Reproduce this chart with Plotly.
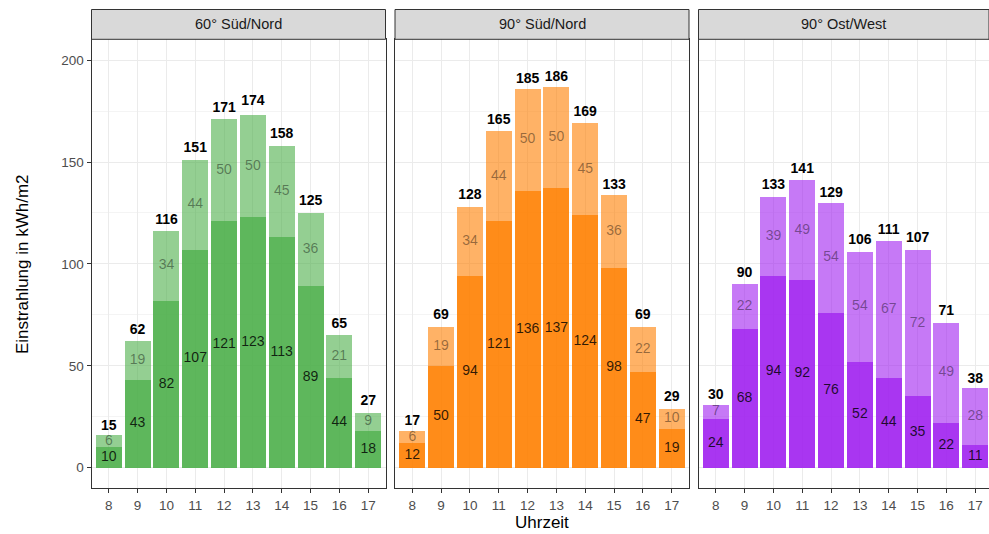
import plotly.graph_objects as go

hours = [8, 9, 10, 11, 12, 13, 14, 15, 16, 17]
panels = ["60° Süd/Nord", "90° Süd/Nord", "90° Ost/West"]

total_60sn = [15, 62, 116, 151, 171, 174, 158, 125, 65, 27]
lower_60sn = [10, 43, 82, 107, 121, 123, 113, 89, 44, 18]
upper_60sn = [6, 19, 34, 44, 50, 50, 45, 36, 21, 9]

total_90sn = [17, 69, 128, 165, 185, 186, 169, 133, 69, 29]
lower_90sn = [12, 50, 94, 121, 136, 137, 124, 98, 47, 19]
upper_90sn = [6, 19, 34, 44, 50, 50, 45, 36, 22, 10]

total_90ow = [30, 90, 133, 141, 129, 106, 111, 107, 71, 38]
lower_90ow = [24, 68, 94, 92, 76, 52, 44, 35, 22, 11]
upper_90ow = [7, 22, 39, 49, 54, 54, 67, 72, 49, 28]

yticks = [0, 50, 100, 150, 200]

data = [
    (total_60sn, lower_60sn, upper_60sn, (77, 175, 74)),
    (total_90sn, lower_90sn, upper_90sn, (255, 127, 0)),
    (total_90ow, lower_90ow, upper_90ow, (160, 32, 240)),
]

W, H = 989, 534
FONT = "Liberation Sans, Arial, sans-serif"

xdom_px = [(91.5, 385.5), (395.0, 689.0), (698.5, 989.0)]
px_per_unit = (385.5 - 91.5) / 10.2
plot_top_px, plot_bot_px = 39.3, 488.3
strip_top_px = 9.5
ydom = [(H - plot_bot_px) / H, (H - plot_top_px) / H]
yrange = [-10.1, 210.2]

fig = go.Figure()

def rgba(c, a):
    return f"rgba({c[0]},{c[1]},{c[2]},{a})"

for i, (tot, low, up, col) in enumerate(data):
    xa = "x" if i == 0 else f"x{i+1}"
    ya = "y" if i == 0 else f"y{i+1}"
    fig.add_trace(go.Bar(x=hours, y=low, width=0.9, marker=dict(color=rgba(col, 0.9), line=dict(width=0)),
                         xaxis=xa, yaxis=ya, showlegend=False, hoverinfo="skip"))
    fig.add_trace(go.Bar(x=hours, y=up, base=low, width=0.9, marker=dict(color=rgba(col, 0.6), line=dict(width=0)),
                         xaxis=xa, yaxis=ya, showlegend=False, hoverinfo="skip"))
    # segment labels
    fig.add_trace(go.Scatter(x=hours, y=[l / 2 for l in low], mode="text", text=[str(v) for v in low],
                             textfont=dict(family=FONT, size=14, color="rgba(0,0,0,0.82)"),
                             xaxis=xa, yaxis=ya, showlegend=False, hoverinfo="skip"))
    fig.add_trace(go.Scatter(x=hours, y=[l + u / 2 for l, u in zip(low, up)], mode="text", text=[str(v) for v in up],
                             textfont=dict(family=FONT, size=14, color="rgba(0,0,0,0.42)"),
                             xaxis=xa, yaxis=ya, showlegend=False, hoverinfo="skip"))
    fig.add_trace(go.Scatter(x=hours, y=tot, mode="markers+text", text=[f"<b>{v}</b>" for v in tot],
                             textposition="top center",
                             marker=dict(size=5, opacity=0),
                             textfont=dict(family=FONT, size=14, color="black"),
                             xaxis=xa, yaxis=ya, showlegend=False, hoverinfo="skip"))

layout = dict(
    width=W, height=H,
    margin=dict(l=0, r=0, t=0, b=0),
    paper_bgcolor="white", plot_bgcolor="white",
    barmode="stack",
    font=dict(family=FONT),
)

for i in range(3):
    x0, x1 = xdom_px[i]
    xr_hi = 7.4 + (x1 - x0) / px_per_unit
    key = "" if i == 0 else str(i + 1)
    layout[f"xaxis{key}"] = dict(
        domain=[x0 / W, x1 / W], range=[7.4, xr_hi], anchor=f"y{key}",
        tickmode="array", tickvals=hours, ticktext=[str(h) for h in hours],
        showgrid=True, gridcolor="#EBEBEB", gridwidth=1,
        showline=True, mirror=True, linecolor="#333333", linewidth=1,
        ticks="outside", ticklen=4, tickcolor="#333333", tickwidth=1,
        tickfont=dict(family=FONT, size=13.5, color="#4D4D4D"),
        zeroline=False, automargin=False, fixedrange=True,
    )
    layout[f"yaxis{key}"] = dict(
        domain=ydom, range=yrange, anchor=f"x{key}",
        tickmode="array", tickvals=yticks, ticktext=[str(v) for v in yticks] if i == 0 else [""] * len(yticks),
        showticklabels=(i == 0),
        showgrid=True, gridcolor="#EBEBEB", gridwidth=1,
        minor=dict(tickvals=[25, 75, 125, 175], showgrid=True, gridcolor="#F4F4F4", gridwidth=1, ticks=""),
        showline=True, mirror=True, linecolor="#333333", linewidth=1,
        ticks="outside" if i == 0 else "", ticklen=4, tickcolor="#333333", tickwidth=1,
        tickfont=dict(family=FONT, size=13.5, color="#4D4D4D"),
        zeroline=False, automargin=False, fixedrange=True,
    )

shapes = []
annotations = []
for i in range(3):
    x0, x1 = xdom_px[i]
    shapes.append(dict(type="rect", xref="paper", yref="paper",
                       x0=x0 / W, x1=x1 / W, y0=(H - plot_top_px) / H, y1=(H - strip_top_px) / H,
                       fillcolor="#D9D9D9", line=dict(color="#333333", width=1), layer="above"))
    annotations.append(dict(text=panels[i], xref="paper", yref="paper",
                            x=(x0 + x1) / 2 / W, y=(H - (plot_top_px + strip_top_px) / 2) / H,
                            showarrow=False, xanchor="center", yanchor="middle",
                            font=dict(family=FONT, size=14.5, color="#1A1A1A")))

annotations.append(dict(text="Einstrahlung in kWh/m2", xref="paper", yref="paper",
                        x=22 / W, y=(H - 264) / H, textangle=-90, showarrow=False,
                        xanchor="center", yanchor="middle",
                        font=dict(family=FONT, size=17, color="black")))
annotations.append(dict(text="Uhrzeit", xref="paper", yref="paper",
                        x=(xdom_px[1][0] + xdom_px[1][1]) / 2 / W, y=(H - 522) / H, showarrow=False,
                        xanchor="center", yanchor="middle",
                        font=dict(family=FONT, size=17, color="black")))

layout["shapes"] = shapes
layout["annotations"] = annotations
fig.update_layout(**layout)

fig.write_html("out.html", config={"displayModeBar": False},
               post_script="document.body.style.margin='0';document.body.style.padding='0';document.body.style.overflow='hidden';")
